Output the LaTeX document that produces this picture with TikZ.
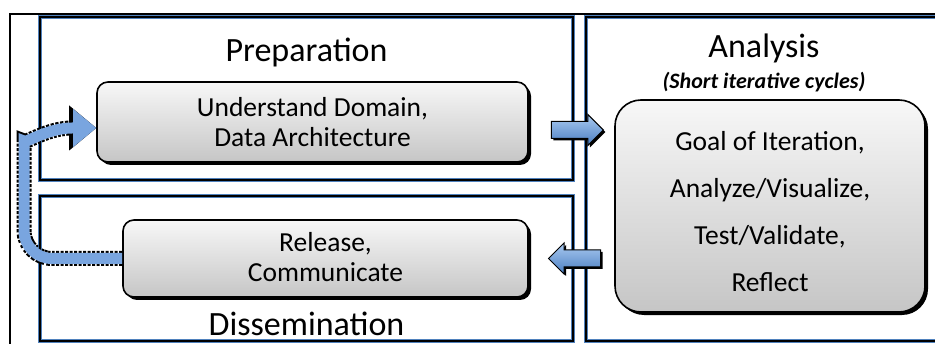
\documentclass[tikz,border=0pt]{standalone}
\usepackage{fontspec}
\setmainfont{Carlito}
\usepackage{xcolor}
\usepackage{tikz}
\usetikzlibrary{shadows, positioning, arrows.meta, calc, shapes.arrows}

\definecolor{frameblue}{HTML}{4F81BD}
\definecolor{arrowlight}{HTML}{AACAF0}
\definecolor{arrowdark}{HTML}{4A7EC2}
\definecolor{arrowmid}{HTML}{79A5DF}

\begin{document}
\begin{tikzpicture}[
    x=1pt, y=1pt,
    phasebox/.style={
        rectangle,
        draw=black,
        line width=2.6pt,
        preaction={draw=frameblue, line width=4.2pt},
        inner sep=0pt
    },
    phasetitle/.style={
        inner sep=0pt,
        font=\fontsize{34}{40}\selectfont
    },
    stepbox/.style={
        rectangle,
        rounded corners=11pt,
        draw=black,
        line width=1.6pt,
        top color=gray!6,
        bottom color=gray!45,
        drop shadow={shadow xshift=3pt, shadow yshift=-3pt, fill=black, opacity=1},
        align=center,
        inner sep=0pt,
        font=\fontsize{27.5}{30}\selectfont
    },
    blockarrow/.style={
        single arrow,
        draw=black,
        line width=1pt,
        top color=arrowlight,
        bottom color=arrowdark,
        minimum height=52pt,
        inner xsep=0pt, inner ysep=8pt,
        single arrow head extend=7pt,
        drop shadow={shadow xshift=2pt, shadow yshift=-2pt, fill=black, opacity=1}
    },
    loopback/.style={
        line width=11pt,
        draw=arrowmid,
        preaction={draw=black, line width=15pt, dash pattern=on 3pt off 1.5pt,
            -{Triangle[length=27pt, width=45pt, line width=0pt]}},
        -{Triangle[length=23pt, width=38pt, line width=0pt, fill=arrowmid]}
    }
]
    \path[use as bounding box, clip] (0,0) rectangle (935,343);

    % Outer frame
    \draw[line width=2pt] (9.5,-5) -- (9.5,329) -- (945,329);

    % Phases
    \node[phasebox, minimum width=533pt, minimum height=163pt] (prep) at (306.5,244.5) {};
    \node[phasebox, minimum width=533pt, minimum height=145pt] (diss) at (306.5,74.5) {};
    \node[phasebox, minimum width=356pt, minimum height=324pt] (anal) at (764,164) {};

    % Titles
    \node[phasetitle, below=22pt of prep.north] (preptitle) {Preparation};
    \node[phasetitle, above=6pt of diss.south] (disstitle) {Dissemination};
    \node[phasetitle, below=18pt of anal.north] (analtitle) {Analysis};
    \node[inner sep=0pt, font=\fontsize{22}{26}\selectfont\bfseries\itshape,
        below=9pt of analtitle] (analsub) {(Short iterative cycles)};

    % Steps
    \node[stepbox, minimum width=431pt, minimum height=80pt, text height=50pt] (understand)
        at (312.5,221) {Understand Domain,\\Data Architecture};
    \node[stepbox, minimum width=405pt, minimum height=77pt, text height=47pt] (release)
        at (325.5,84.5) {Release,\\Communicate};
    \node[stepbox, rounded corners=26pt, minimum width=310pt, minimum height=212pt,
        text height=172pt, font=\fontsize{27.5}{47}\selectfont] (iterate) at (770,137)
        {Goal of Iteration,\\Analyze/Visualize,\\Test/Validate,\\Reflect};

    % Arrows
    \node[blockarrow, right=22pt of understand, yshift=-8pt] (fwd) {};
    \node[blockarrow, shape border rotate=180, right=19pt of release] (back) {};

    \coordinate (bend) at (24,174);
    \coordinate (crest) at (72,215);
    \draw[loopback] (release.west) [rounded corners=28pt] -| (bend) [sharp corners]
        to[out=90, in=180] (crest) -- ([yshift=-6pt]understand.west);
\end{tikzpicture}
\end{document}
